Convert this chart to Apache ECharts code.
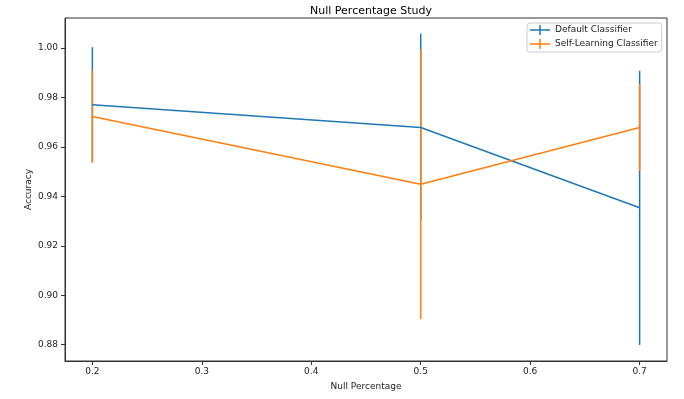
<!DOCTYPE html>
<html>
<head>
<meta charset="utf-8">
<script src="https://cdn.jsdelivr.net/npm/echarts@6/dist/echarts.min.js"></script>
<style>html,body{margin:0;padding:0;background:#fff;}#c{width:684px;height:399px;}</style>
</head>
<body>
<div id="c"></div>
<script>
var xValues = [0.2, 0.5, 0.7];
var defaultMean = [0.9771, 0.9679, 0.9354];
var defaultErr = [0.0233, 0.0380, 0.0555];
var selfMean = [0.9723, 0.9449, 0.9679];
var selfErr = [0.0186, 0.0545, 0.0176];
var xTicks = [0.2, 0.3, 0.4, 0.5, 0.6, 0.7];
var yTicks = [0.88, 0.90, 0.92, 0.94, 0.96, 0.98, 1.00];
var seriesNames = ['Default Classifier', 'Self-Learning Classifier'];
var colors = ['#1f77b4', '#ff7f0e'];

var FONT = 'DejaVu Sans';
var TXT = '#222';
function pts(mean) { return xValues.map(function (x, i) { return [x, mean[i]]; }); }
function errData(mean, err) { return xValues.map(function (x, i) { return [x, mean[i] - err[i], mean[i] + err[i]]; }); }
function errSeries(name, mean, err, color) {
  return {
    type: 'custom', name: name, data: errData(mean, err),
    renderItem: function (params, api) {
      var p1 = api.coord([api.value(0), api.value(1)]);
      var p2 = api.coord([api.value(0), api.value(2)]);
      return { type: 'line', shape: { x1: p1[0], y1: p1[1], x2: p2[0], y2: p2[1] },
        style: { stroke: color, lineWidth: 1.5 } };
    },
    encode: { x: 0, y: [1, 2] }, silent: true
  };
}
function lineSeries(name, mean, color) {
  return { type: 'line', name: name, data: pts(mean), showSymbol: false, symbol: 'none',
    lineStyle: { color: color, width: 1.5 }, itemStyle: { color: color }, silent: true, animation: false };
}
var icon = 'path://M0,4.25h20v1.5h-20z M9.25,0h1.5v10h-1.5z';
var chart = echarts.init(document.getElementById('c'));
chart.setOption({
  animation: false,
  title: { text: 'Null Percentage Study', left: 366, top: 1, textAlign: 'center',
    textStyle: { fontFamily: FONT, fontSize: 11, fontWeight: 'normal', color: '#000' } },
  grid: { left: 65, right: 17, top: 18, bottom: 38, show: true, borderColor: '#333', borderWidth: 1, backgroundColor: 'transparent' },
  legend: {
    orient: 'vertical', left: 527, top: 23, padding: [2, 4, 3, 3], itemGap: 4,
    itemWidth: 20, itemHeight: 10, symbolKeepAspect: false,
    backgroundColor: '#fff', borderColor: '#ccc', borderWidth: 1, borderRadius: 3,
    textStyle: { fontFamily: FONT, fontSize: 9, color: TXT },
    data: [
      { name: seriesNames[0], icon: icon, itemStyle: { color: colors[0] } },
      { name: seriesNames[1], icon: icon, itemStyle: { color: colors[1] } }
    ], selectedMode: false
  },
  xAxis: {
    type: 'value', min: 0.175, max: 0.725,
    name: 'Null Percentage', nameLocation: 'middle', nameGap: 21, nameMoveOverlap: false,
    nameTextStyle: { fontFamily: FONT, fontSize: 9, color: TXT },
    axisLine: { show: true, lineStyle: { color: '#333', width: 1 } },
    axisTick: { show: true, inside: false, length: 4, customValues: xTicks, lineStyle: { color: '#333' } },
    axisLabel: { customValues: xTicks, margin: 6, fontFamily: FONT, fontSize: 9, color: TXT,
      formatter: function (v) { return v.toFixed(1); } },
    splitLine: { show: false }
  },
  yAxis: {
    type: 'value', min: 0.8734, max: 1.0122,
    name: 'Accuracy', nameLocation: 'middle', nameGap: 32, nameRotate: 90, nameMoveOverlap: false,
    nameTextStyle: { fontFamily: FONT, fontSize: 9, color: TXT },
    axisLine: { show: true, lineStyle: { color: '#333', width: 1 } },
    axisTick: { show: true, inside: false, length: 4, customValues: yTicks, lineStyle: { color: '#333' } },
    axisLabel: { customValues: yTicks, margin: 7, fontFamily: FONT, fontSize: 9, color: TXT,
      formatter: function (v) { return v.toFixed(2); } },
    splitLine: { show: false }
  },
  series: [
    lineSeries(seriesNames[0], defaultMean, colors[0]),
    errSeries(seriesNames[0], defaultMean, defaultErr, colors[0]),
    lineSeries(seriesNames[1], selfMean, colors[1]),
    errSeries(seriesNames[1], selfMean, selfErr, colors[1])
  ]
});
</script>
</body>
</html>
